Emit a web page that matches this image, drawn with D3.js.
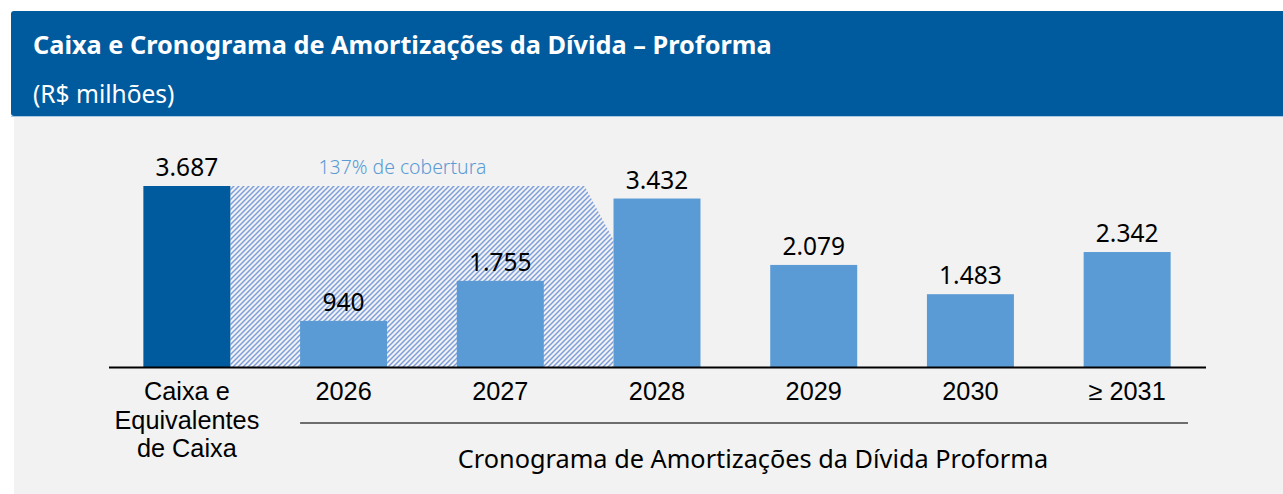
<!DOCTYPE html>
<html>
<head>
<meta charset="utf-8">
<script src="https://cdn.jsdelivr.net/npm/d3@7"></script>
<style>
  html, body { margin: 0; padding: 0; background: #ffffff; }
  svg { display: block; font-family: "Noto Sans", "Open Sans", sans-serif; }
</style>
</head>
<body>
<svg id="chart" width="1283" height="494"></svg>
<script>
// Caixa e cronograma de amortizações (R$ milhões)
const categories = ["caixa", "2026", "2027", "2028", "2029", "2030", "2031"];
const tickLabels = [["Caixa e", "Equivalentes", "de Caixa"], ["2026"], ["2027"], ["2028"], ["2029"], ["2030"], ["≥ 2031"]];
const values = [3687, 940, 1755, 3432, 2079, 1483, 2342];
const coveredYears = ["2026", "2027"];

const title = "Caixa e Cronograma de Amortizações da Dívida – Proforma";
const subtitle = "(R$ milhões)";
const groupLabel = "Cronograma de Amortizações da Dívida Proforma";

const fmt = d3.formatLocale({ decimal: ",", thousands: ".", grouping: [3], currency: ["R$", ""] }).format(",.0f");

const svg = d3.select("#chart");

// panel and header
svg.append("rect").attr("x", 14).attr("y", 116).attr("width", 1283 - 14).attr("height", 494 - 116).attr("fill", "#f2f2f2");
svg.append("rect").attr("x", 11).attr("y", 11).attr("width", 1283).attr("height", 105).attr("rx", 3).attr("fill", "#005a9e");
svg.append("line").attr("x1", 11).attr("x2", 1283).attr("y1", 116.5).attr("y2", 116.5).attr("stroke", "#a9c6e3").attr("stroke-width", 1);

svg.append("text").attr("x", 33).attr("y", 54).attr("fill", "#ffffff")
  .attr("font-size", 25.3).attr("font-weight", "bold").text(title);
svg.append("text").attr("x", 33).attr("y", 103).attr("fill", "#ffffff")
  .attr("font-size", 24.5).text(subtitle);

// scales
const baseY = 367;
const x = d3.scaleBand().domain(categories).range([108.5, 1205.5]).paddingInner(0.445).paddingOuter(0.2225);
const y = d3.scaleLinear().domain([0, 3687]).range([baseY, 186]);

// hatch pattern for the coverage area
const defs = svg.append("defs");
const pat = defs.append("pattern").attr("id", "hatch").attr("patternUnits", "userSpaceOnUse")
  .attr("width", 5).attr("height", 5);
pat.append("path").attr("d", "M-1,6 L6,-1 M-1,1 L1,-1 M4,6 L6,4")
  .attr("stroke", "#7c9fdc").attr("stroke-width", 1.5);

// coverage polygon: from cash bar edge to the first uncovered year, at cash height
const xs = x(categories[0]) + x.bandwidth();
const xe = x("2028");
const yt = y(values[0]);
svg.append("path")
  .attr("d", `M${xs},${yt} L${xe - 29},${yt} L${xe},${yt + 54} L${xe},${baseY} L${xs},${baseY} Z`)
  .attr("fill", "url(#hatch)");

const coverage = values[0] / d3.sum(coveredYears, yr => values[categories.indexOf(yr)]);
svg.append("text").attr("x", (xs + xe - 29) / 2 - 5).attr("y", 174)
  .attr("text-anchor", "middle").attr("font-size", 19.4).attr("font-weight", 300)
  .attr("fill", "#5b9bd5").text(`${Math.round(coverage * 100)}% de cobertura`);

// bars
svg.selectAll("rect.bar").data(categories).enter().append("rect")
  .attr("class", "bar")
  .attr("x", d => x(d)).attr("width", x.bandwidth())
  .attr("y", (d, i) => y(values[i])).attr("height", (d, i) => baseY - y(values[i]))
  .attr("fill", (d, i) => i === 0 ? "#005a9e" : "#5b9bd5");

// value labels
svg.selectAll("text.val").data(categories).enter().append("text")
  .attr("class", "val")
  .attr("x", d => x(d) + x.bandwidth() / 2).attr("y", (d, i) => y(values[i]) - 10)
  .attr("text-anchor", "middle").attr("font-size", 24.5).attr("fill", "#000")
  .text((d, i) => fmt(values[i]));

// category axis
const axis = d3.axisBottom(x).tickSize(0).tickFormat(() => "");
const gAxis = svg.append("g").attr("transform", `translate(0,${baseY})`).call(axis);
gAxis.select(".domain").attr("stroke", "#000").attr("stroke-width", 2.2);
gAxis.selectAll(".tick text").remove();

gAxis.selectAll(".tick").append("text")
  .attr("text-anchor", "middle").attr("font-size", 25.3).attr("fill", "#000")
  .each(function(d, i) {
    const t = d3.select(this);
    tickLabels[i].forEach((line, k) => {
      t.append("tspan").attr("x", 0).attr("y", 33 + k * 28.5).text(line);
    });
  });

// bracket line and group label for the schedule
svg.append("line").attr("x1", x("2026")).attr("x2", 1188).attr("y1", 423).attr("y2", 423)
  .attr("stroke", "#404040").attr("stroke-width", 1.5);
svg.append("text").attr("x", 753).attr("y", 468).attr("text-anchor", "middle")
  .attr("font-size", 25.3).attr("fill", "#000").text(groupLabel);
</script>
</body>
</html>
